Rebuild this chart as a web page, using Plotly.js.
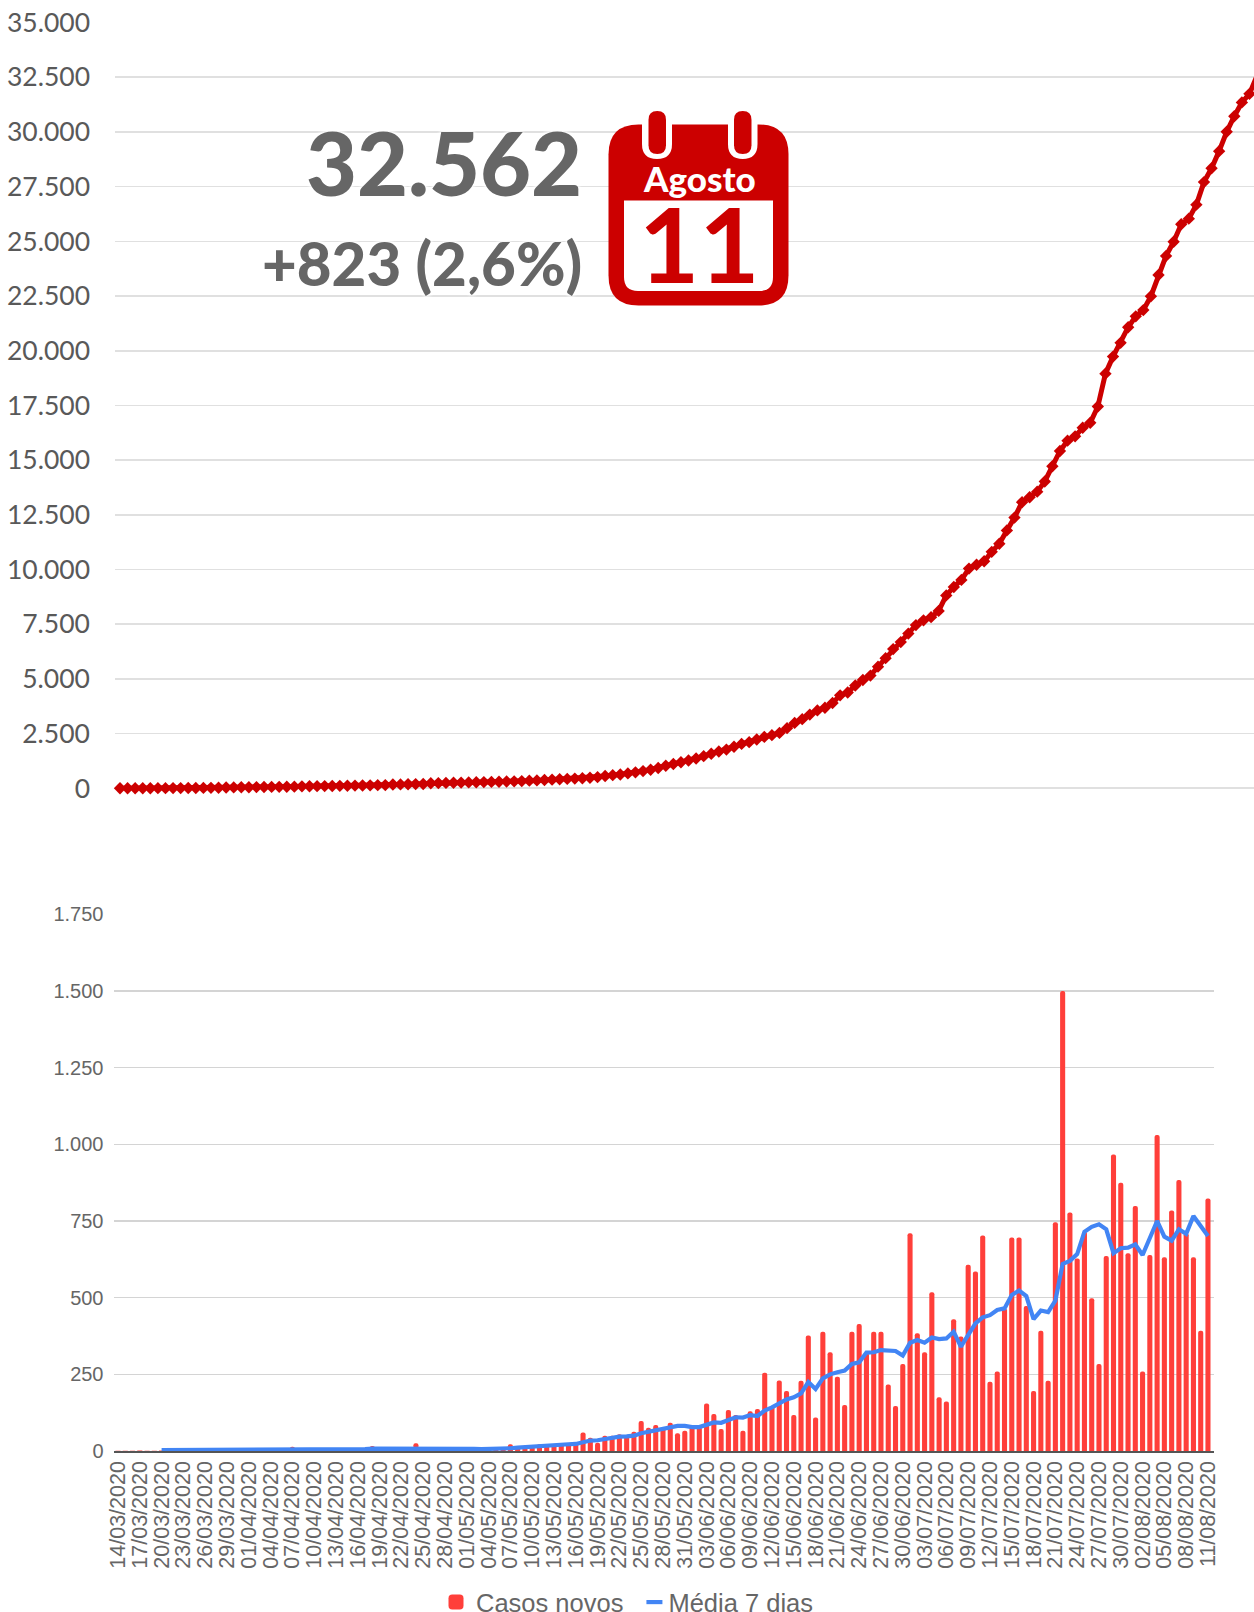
<!DOCTYPE html>
<html>
<head>
<meta charset="utf-8">
<script src="https://cdn.plot.ly/plotly-3.0.1.min.js"></script>
<style>html,body{margin:0;padding:0;background:#fff;overflow:hidden}</style>
</head>
<body>
<div id="chart" style="width:1254px;height:1612px"></div>
<script>
const dates = ["14/03/2020","15/03/2020","16/03/2020","17/03/2020","18/03/2020","19/03/2020","20/03/2020","21/03/2020","22/03/2020","23/03/2020","24/03/2020","25/03/2020","26/03/2020","27/03/2020","28/03/2020","29/03/2020","30/03/2020","31/03/2020",
"01/04/2020","02/04/2020","03/04/2020","04/04/2020","05/04/2020","06/04/2020","07/04/2020","08/04/2020","09/04/2020","10/04/2020","11/04/2020","12/04/2020","13/04/2020","14/04/2020","15/04/2020","16/04/2020","17/04/2020","18/04/2020","19/04/2020","20/04/2020","21/04/2020","22/04/2020","23/04/2020","24/04/2020","25/04/2020","26/04/2020","27/04/2020","28/04/2020","29/04/2020","30/04/2020",
"01/05/2020","02/05/2020","03/05/2020","04/05/2020","05/05/2020","06/05/2020","07/05/2020","08/05/2020","09/05/2020","10/05/2020","11/05/2020","12/05/2020","13/05/2020","14/05/2020","15/05/2020","16/05/2020","17/05/2020","18/05/2020","19/05/2020","20/05/2020","21/05/2020","22/05/2020","23/05/2020","24/05/2020","25/05/2020","26/05/2020","27/05/2020","28/05/2020","29/05/2020","30/05/2020","31/05/2020",
"01/06/2020","02/06/2020","03/06/2020","04/06/2020","05/06/2020","06/06/2020","07/06/2020","08/06/2020","09/06/2020","10/06/2020","11/06/2020","12/06/2020","13/06/2020","14/06/2020","15/06/2020","16/06/2020","17/06/2020","18/06/2020","19/06/2020","20/06/2020","21/06/2020","22/06/2020","23/06/2020","24/06/2020","25/06/2020","26/06/2020","27/06/2020","28/06/2020","29/06/2020","30/06/2020",
"01/07/2020","02/07/2020","03/07/2020","04/07/2020","05/07/2020","06/07/2020","07/07/2020","08/07/2020","09/07/2020","10/07/2020","11/07/2020","12/07/2020","13/07/2020","14/07/2020","15/07/2020","16/07/2020","17/07/2020","18/07/2020","19/07/2020","20/07/2020","21/07/2020","22/07/2020","23/07/2020","24/07/2020","25/07/2020","26/07/2020","27/07/2020","28/07/2020","29/07/2020","30/07/2020","31/07/2020",
"01/08/2020","02/08/2020","03/08/2020","04/08/2020","05/08/2020","06/08/2020","07/08/2020","08/08/2020","09/08/2020","10/08/2020","11/08/2020"];

const tickDates = ["14/03/2020","17/03/2020","20/03/2020","23/03/2020","26/03/2020","29/03/2020","01/04/2020","04/04/2020","07/04/2020","10/04/2020","13/04/2020","16/04/2020","19/04/2020","22/04/2020","25/04/2020","28/04/2020","01/05/2020","04/05/2020","07/05/2020","10/05/2020","13/05/2020","16/05/2020","19/05/2020","22/05/2020","25/05/2020","28/05/2020","31/05/2020","03/06/2020","06/06/2020","09/06/2020","12/06/2020","15/06/2020","18/06/2020","21/06/2020","24/06/2020","27/06/2020","30/06/2020","03/07/2020","06/07/2020","09/07/2020","12/07/2020","15/07/2020","18/07/2020","21/07/2020","24/07/2020","27/07/2020","30/07/2020","02/08/2020","05/08/2020","08/08/2020","11/08/2020"];

const totalCases = [1,1,2,3,4,5,7,9,11,13,16,19,22,26,38,42,46,50,54,58,62,66,70,74,88,92,97,102,107,112,118,124,130,136,142,148,172,178,185,192,199,230,238,246,254,262,270,278,285,292,300,310,318,328,350,362,380,395,415,430,445,460,480,510,560,600,630,680,730,785,850,930,1030,1110,1190,1270,1360,1470,1580,1680,1770,1900,2030,2110,2230,2350,2430,2530,2750,2990,3160,3370,3560,3680,3900,4250,4380,4700,4950,5150,5558,5947,6361,6681,7070,7459,7676,7823,8107,8817,9201,9523,10040,10215,10376,10806,11179,11786,12371,13074,13300,13559,14024,14720,15416,15889,16085,16477,16706,17452,18952,19730,20358,21073,21571,21855,22491,23458,24333,24978,25777,26036,26675,27705,28337,29121,30005,30715,31347,31739,32562];

const newCases = [1,1,1,2,1,1,2,3,3,3,3,3,3,3,4,4,4,4,4,4,4,4,4,4,14,3,4,4,4,5,5,5,5,5,5,16,6,6,7,6,5,25,6,6,6,7,7,7,6,5,5,5,5,10,22,12,17,15,22,20,20,22,22,25,60,43,27,50,50,55,50,63,98,76,85,74,92,58,66,79,79,155,121,72,134,117,66,130,137,255,145,230,196,117,229,377,109,389,322,242,150,389,414,320,389,389,217,147,284,710,384,322,518,175,161,430,373,607,585,703,226,259,465,696,696,473,196,392,229,746,1500,778,628,715,498,284,636,967,875,645,799,259,639,1030,632,784,884,710,632,392,823];

const mean7 = [null,null,null,null,null,null,3,3,3,3,3,3,3,3,3,3,3,4,4,4,4,5,5,5,4,5,5,5,5,5,6,6,6,5,6,8,8,8,7,7,7,8,8,8,9,9,10,10,8,7,6,6,6,7,9,11,13,15,17,18,19,20,22,23,28,34,35,40,43,47,48,50,58,63,68,74,79,82,82,78,78,87,93,92,101,110,109,117,114,132,142,155,168,175,188,225,202,237,250,257,262,284,289,321,322,329,328,326,311,353,362,353,370,365,367,389,340,378,416,436,443,460,465,509,523,505,430,458,453,490,610,620,642,715,731,739,723,645,661,663,674,639,693,750,699,686,723,708,766,731,701];

const red = '#CC0000', grey = '#666666', barRed = '#FF3F3A', blue = '#4285F4';
const W = 1254, H = 1612;
const px = (x) => x / W;
const py = (y) => 1 - y / H;

/* decoration path helper: takes page pixels, gives paper fractions */
function pth(cmds) {
  return cmds.map(c => c[0] + c.slice(1).map((v, i) => i % 2 === 0 ? px(v).toFixed(5) : py(v).toFixed(5)).join(',')).join(' ') ;
}
function rrect(x0, y0, x1, y1, rt, rb) {
  return pth([['M', x0 + rt, y0], ['L', x1 - rt, y0], ['Q', x1, y0, x1, y0 + rt], ['L', x1, y1 - rb], ['Q', x1, y1, x1 - rb, y1], ['L', x0 + rb, y1], ['Q', x0, y1, x0, y1 - rb], ['L', x0, y0 + rt], ['Q', x0, y0, x0 + rt, y0]]) + ' Z';
}
const shp = (path, color) => ({type: 'path', xref: 'paper', yref: 'paper', path, fillcolor: color, line: {width: 0}, layer: 'above'});

const shapes = [
  shp(rrect(608.5, 124.5, 788.5, 305.5, 30, 30), red),
  shp(rrect(624, 200.5, 773, 291, 0, 14), '#FFFFFF'),
  shp(rrect(642, 118, 672, 159, 0, 15), '#FFFFFF'),
  shp(rrect(728, 118, 757.5, 159, 0, 15), '#FFFFFF'),
  shp(rrect(648.5, 111, 666, 154, 8.7, 8.7), red),
  shp(rrect(734, 111, 751.5, 154, 8.7, 8.7), red)
];

const traces = [
  {type: 'scatter', mode: 'lines+markers', x: dates, y: totalCases, xaxis: 'x', yaxis: 'y', showlegend: false,
   line: {color: red, width: 5}, marker: {symbol: 'diamond', size: 9.5, color: red}, cliponaxis: false},
  {type: 'bar', name: 'Casos novos', x: dates, y: newCases, xaxis: 'x2', yaxis: 'y2', marker: {color: barRed, line: {width: 0}}},
  {type: 'scatter', mode: 'lines', name: 'Média 7 dias', x: dates, y: mean7, xaxis: 'x2', yaxis: 'y2', connectgaps: false,
   line: {color: blue, width: 4.2}}
];

const layout = {
  width: W, height: H, autosize: false,
  margin: {l: 0, r: 0, t: 0, b: 0, pad: 0, autoexpand: false},
  paper_bgcolor: '#FFFFFF', plot_bgcolor: '#FFFFFF',
  separators: ',.',
  bargap: 0.3, barcornerradius: 2.5,
  showlegend: true,
  legend: {orientation: 'h', x: px(436), xanchor: 'left', y: py(1579), yanchor: 'top',
    font: {family: 'Liberation Sans, Arial, sans-serif', size: 25.5, color: '#666666'}, bgcolor: 'rgba(0,0,0,0)', itemwidth: 30, traceorder: 'normal'},
  xaxis: {domain: [px(115), 1], type: 'category', anchor: 'y', range: [-0.66, 149.6], showgrid: false, zeroline: false, showline: false,
    ticks: '', showticklabels: false, categoryorder: 'array', categoryarray: dates},
  yaxis: {domain: [py(788.3), py(22.5)], anchor: 'x', range: [0, 35000], dtick: 2500, tickformat: ',d', gridcolor: '#E0E0E0', gridwidth: 1.6,
    zeroline: true, zerolinecolor: '#E0E0E0', zerolinewidth: 1.6, showline: false, ticks: '', ticklabelstandoff: 24,
    tickfont: {family: 'Lato, sans-serif', size: 26.5, color: '#595959'}},
  xaxis2: {domain: [px(113.5), px(1214)], type: 'category', anchor: 'y2', range: [-0.62, 150.83], showgrid: false, zeroline: false,
    showline: true, linecolor: '#555555', linewidth: 1.5, ticks: '', tickmode: 'array', tickvals: tickDates, ticktext: tickDates, tickangle: -90, ticklabelstandoff: 0,
    categoryorder: 'array', categoryarray: dates,
    tickfont: {family: 'Liberation Sans, Arial, sans-serif', size: 21.5, color: '#666666'}},
  yaxis2: {domain: [py(1451), py(914.3)], anchor: 'x2', range: [0, 1750], dtick: 250, tickformat: ',d', gridcolor: '#D4D4D4', gridwidth: 1.5,
    zeroline: false, showline: false, ticks: '', ticklabelstandoff: 9,
    tickfont: {family: 'Liberation Sans, Arial, sans-serif', size: 20, color: '#666666'}},
  shapes,
  annotations: [
    {xref: 'paper', yref: 'paper', x: px(584), y: py(162), xanchor: 'right', yanchor: 'middle', showarrow: false, text: '32.562',
     font: {family: 'Lato, sans-serif', size: 88, weight: 900, color: grey, shadow: '0 0 4px #fff, 0 0 4px #fff, 0 0 4px #fff'}},
    {xref: 'paper', yref: 'paper', x: px(584), y: py(263), xanchor: 'right', yanchor: 'middle', showarrow: false, text: '+823 (2,6%)',
     font: {family: 'Lato, sans-serif', size: 60, weight: 900, color: grey, shadow: '0 0 4px #fff, 0 0 4px #fff, 0 0 4px #fff'}},
    {xref: 'paper', yref: 'paper', x: px(699.5), y: py(178), xanchor: 'center', yanchor: 'middle', showarrow: false, text: 'Agosto',
     font: {family: 'Lato, sans-serif', size: 35, weight: 900, color: '#FFFFFF'}},
    {xref: 'paper', yref: 'paper', x: px(699), y: py(243), xanchor: 'center', yanchor: 'middle', showarrow: false, text: '<b>11</b>',
     font: {family: 'Lato, sans-serif', size: 104, color: red}}
  ]
};

Plotly.newPlot('chart', traces, layout, {displayModeBar: false, staticPlot: true}).then(() => {
  /* the legend keys of the reference are a larger square and a shorter dash */
  const groups = document.querySelectorAll('.legend .traces');
  if (groups[0]) groups[0].querySelectorAll('.legendpoints path').forEach(p => p.setAttribute('transform', 'translate(20,0) scale(1.25)'));
  if (groups[1]) groups[1].querySelectorAll('.legendlines path').forEach(p => p.setAttribute('d', 'M18,0h16'));
});
</script>
</body>
</html>
